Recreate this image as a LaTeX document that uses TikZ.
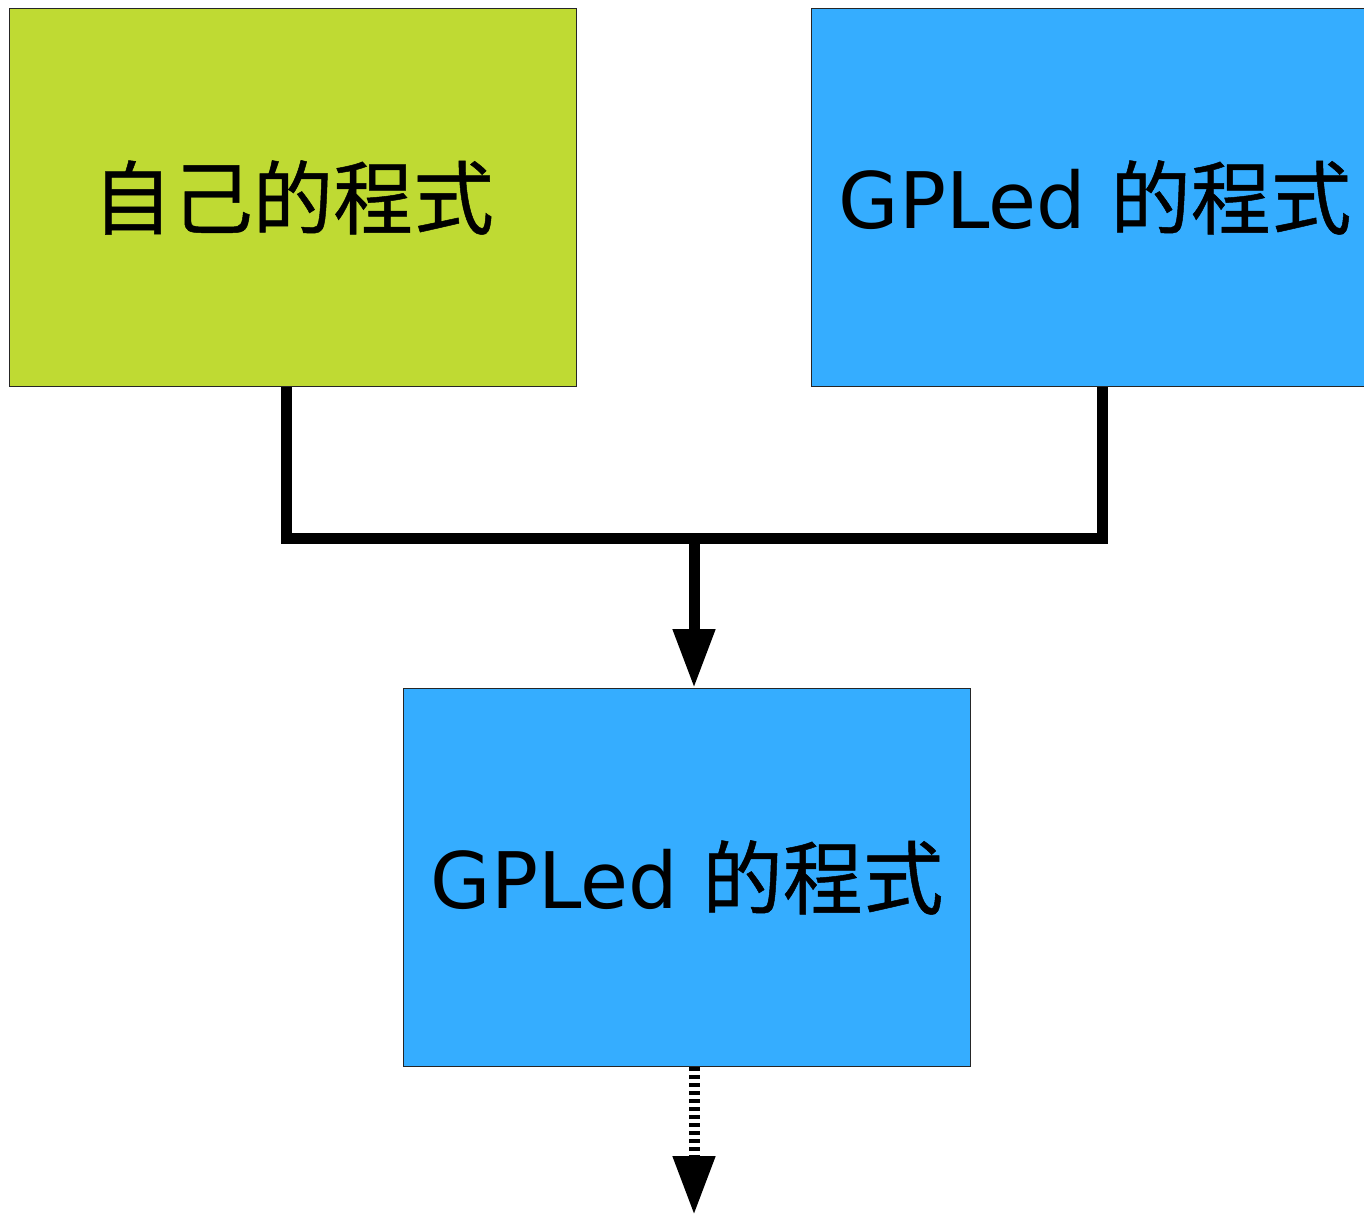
\documentclass[tikz,border=0pt]{standalone}
\usepackage{fontspec}
\setmainfont{DejaVu Sans}
\newfontfamily\cjk[Scale=1.03,FakeBold=0.6]{Noto Sans CJK TC}
\usetikzlibrary{arrows.meta}
\definecolor{boxgreen}{RGB}{191,218,51}
\definecolor{boxblue}{RGB}{53,173,255}
\tikzset{
  prog/.style={draw=black!85, line width=1pt, minimum width=567pt, minimum height=378pt, inner sep=0pt, anchor=north west, font=\fontsize{78}{94}\selectfont},
  conn/.style={line width=11pt, black, line join=miter},
  tip/.style={-{Triangle[length=59pt,width=40pt]}}
}
\begin{document}
\begin{tikzpicture}[x=1pt,y=-1pt]
\clip (0,0) rectangle (1364,1215);
\fill[white] (0,0) rectangle (1364,1215);
\node[prog, fill=boxgreen] (own) at (9,8) {\cjk 自己的程式};
\node[prog, fill=boxblue] (gpl) at (811,8) {GPLed {\cjk 的程式}};
\node[prog, fill=boxblue] (res) at (403,688) {GPLed {\cjk 的程式}};
\coordinate (lj) at (286,538);
\coordinate (rj) at (1102.5,538);
\coordinate (mj) at (694,538);
\coordinate (out) at (694,1215);
\draw[conn] (own.south west -| lj) -- (lj) -- (rj) -- (gpl.south west -| rj);
\draw[conn, tip] (mj) -- (res.north west -| mj);
\draw[conn, tip, dash pattern=on 4pt off 4pt] (res.south west -| out) -- (out);
\end{tikzpicture}
\end{document}
